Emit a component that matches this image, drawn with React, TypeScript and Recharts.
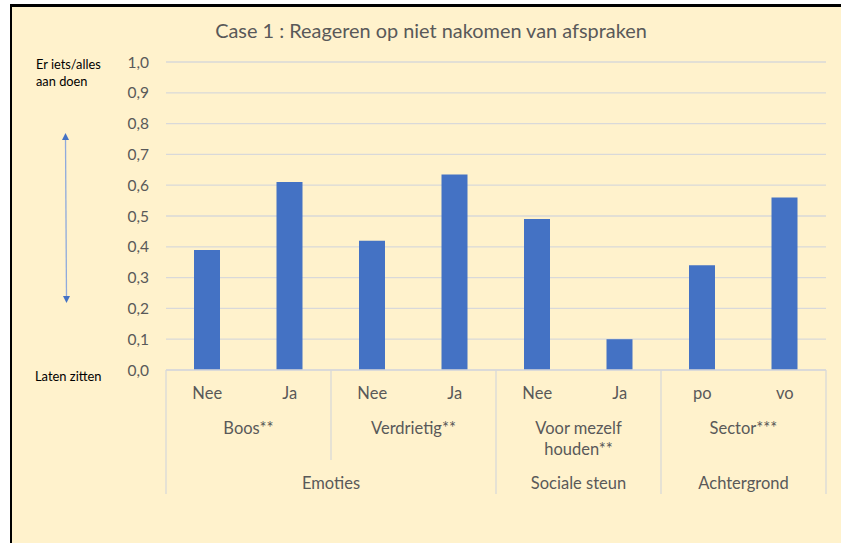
import React from 'react';
import { BarChart, Bar, XAxis, YAxis, CartesianGrid } from 'recharts';

const categoryKeys = ['Boos-Nee', 'Boos-Ja', 'Verdrietig-Nee', 'Verdrietig-Ja', 'Mezelf-Nee', 'Mezelf-Ja', 'Sector-po', 'Sector-vo'];
const level1Labels = ['Nee', 'Ja', 'Nee', 'Ja', 'Nee', 'Ja', 'po', 'vo'];
const values = [0.39, 0.61, 0.42, 0.635, 0.49, 0.1, 0.34, 0.56];

const level2Labels = [['Boos**'], ['Verdrietig**'], ['Voor mezelf', 'houden**'], ['Sector***']];
const level2Spans = [2, 2, 2, 2];
const level3Labels = ['Emoties', 'Sociale steun', 'Achtergrond'];
const level3Spans = [4, 2, 2];

const yTicks = [0, 0.1, 0.2, 0.3, 0.4, 0.5, 0.6, 0.7, 0.8, 0.9, 1.0];

const data = categoryKeys.map((k, i) => ({ key: k, value: values[i] }));

const starts = (spans: number[]) => {
  const out: number[] = [];
  let s = 0;
  spans.forEach((n) => {
    out.push(s);
    s += n;
  });
  return out;
};
const level2Starts = starts(level2Spans);
const level3Starts = starts(level3Spans);

const FONT = 'Lato, "Open Sans", sans-serif';
const TEXT = '#595959';
const GRID = '#D9D9D9';
const BAR = '#4472C4';
const LABEL_SIZE = 16.5;

const bandOf = (props: any) => {
  const w = Number(props.width);
  const n = Number(props.visibleTicksCount);
  return w > 0 && n > 0 ? w / n : 82.5;
};

const Level1Tick = (props: any) => {
  const { x, y, index } = props;
  const band = bandOf(props);
  const lines: React.ReactNode[] = [];
  const i2 = level2Starts.indexOf(index);
  if (i2 >= 0) {
    const long = level3Starts.indexOf(index) >= 0;
    lines.push(
      <line key="l" x1={x - band / 2} x2={x - band / 2} y1={y} y2={y + (long ? 124 : 90)} stroke={GRID} strokeWidth={1.3} />
    );
  }
  if (index === level1Labels.length - 1) {
    lines.push(<line key="r" x1={x + band / 2} x2={x + band / 2} y1={y} y2={y + 124} stroke={GRID} strokeWidth={1.3} />);
  }
  return (
    <g>
      {lines}
      <text x={x} y={y + 23} textAnchor="middle" dominantBaseline="central" fill={TEXT} fontSize={LABEL_SIZE} fontFamily={FONT}>
        {level1Labels[index]}
      </text>
    </g>
  );
};

const Level2Tick = (props: any) => {
  const { x, y, index } = props;
  const band = bandOf(props);
  const g = level2Starts.indexOf(index);
  if (g < 0) return <g />;
  const cx = x + ((level2Spans[g] - 1) * band) / 2;
  return (
    <text x={cx} y={y} textAnchor="middle" fill={TEXT} fontSize={LABEL_SIZE} fontFamily={FONT}>
      {level2Labels[g].map((l, j) => (
        <tspan key={j} x={cx} y={y + 18 + j * 21} dominantBaseline="central">
          {l}
        </tspan>
      ))}
    </text>
  );
};

const Level3Tick = (props: any) => {
  const { x, y, index } = props;
  const band = bandOf(props);
  const g = level3Starts.indexOf(index);
  if (g < 0) return <g />;
  const cx = x + ((level3Spans[g] - 1) * band) / 2;
  return (
    <text x={cx} y={y + 13} textAnchor="middle" dominantBaseline="central" fill={TEXT} fontSize={LABEL_SIZE} fontFamily={FONT}>
      {level3Labels[g]}
    </text>
  );
};

export default function App() {
  return (
    <div style={{ position: 'absolute', left: 0, top: 0, width: 841, height: 543, background: '#ffffff', overflow: 'hidden' }}>
      <div
        style={{
          position: 'absolute',
          left: 10,
          top: 4,
          width: 831,
          height: 539,
          background: '#FFF2CC',
          borderTop: '3px solid #000',
          borderLeft: '2px solid #000',
          boxSizing: 'border-box',
        }}
      />
      <div
        style={{
          position: 'absolute',
          left: 0,
          width: 862,
          top: 16,
          textAlign: 'center',
          fontFamily: FONT,
          fontSize: 19.9,
          color: TEXT,
          lineHeight: '28px',
        }}
      >
        Case 1 : Reageren op niet nakomen van afspraken
      </div>
      <div style={{ position: 'absolute', left: 36, top: 56, fontFamily: FONT, fontSize: 12.8, color: '#000', lineHeight: '17px' }}>
        Er iets/alles
        <br />
        aan doen
      </div>
      <div style={{ position: 'absolute', left: 35, top: 368, fontFamily: FONT, fontSize: 12.9, color: '#000', lineHeight: '17px' }}>
        Laten zitten
      </div>
      <svg style={{ position: 'absolute', left: 0, top: 0 }} width={841} height={543}>
        <line x1={65.5} y1={139} x2={66.5} y2={297} stroke="#8FAADC" strokeWidth={1.3} />
        <polygon points="62,140 69,140 65.5,133" fill={BAR} />
        <polygon points="63,296 70,296 66.5,303" fill={BAR} />
      </svg>
      <div style={{ position: 'absolute', left: 0, top: 0 }}>
        <BarChart width={841} height={543} data={data} margin={{ top: 62, right: 15, bottom: 43, left: 66 }}>
          <CartesianGrid vertical={false} stroke={GRID} strokeWidth={1.3} />
          <XAxis
            dataKey="key"
            xAxisId={0}
            height={40}
            tickSize={0}
            tickMargin={0}
            tickLine={false}
            axisLine={{ stroke: GRID, strokeWidth: 1.3 }}
            tick={<Level1Tick />}
            interval={0}
          />
          <XAxis
            dataKey="key"
            xAxisId="g2"
            height={60}
            tickSize={0}
            tickMargin={0}
            tickLine={false}
            axisLine={false}
            tick={<Level2Tick />}
            interval={0}
          />
          <XAxis
            dataKey="key"
            xAxisId="g3"
            height={30}
            tickSize={0}
            tickMargin={0}
            tickLine={false}
            axisLine={false}
            tick={<Level3Tick />}
            interval={0}
          />
          <YAxis
            domain={[0, 1]}
            ticks={yTicks}
            width={100}
            tickSize={0}
            tickMargin={17}
            tickLine={false}
            axisLine={false}
            tickFormatter={(v: number) => v.toFixed(1).replace('.', ',')}
            tick={{ fill: TEXT, fontSize: 15.5, fontFamily: FONT }}
            interval={0}
          />
          <Bar dataKey="value" xAxisId={0} fill={BAR} barSize={26} isAnimationActive={false} />
        </BarChart>
      </div>
    </div>
  );
}
